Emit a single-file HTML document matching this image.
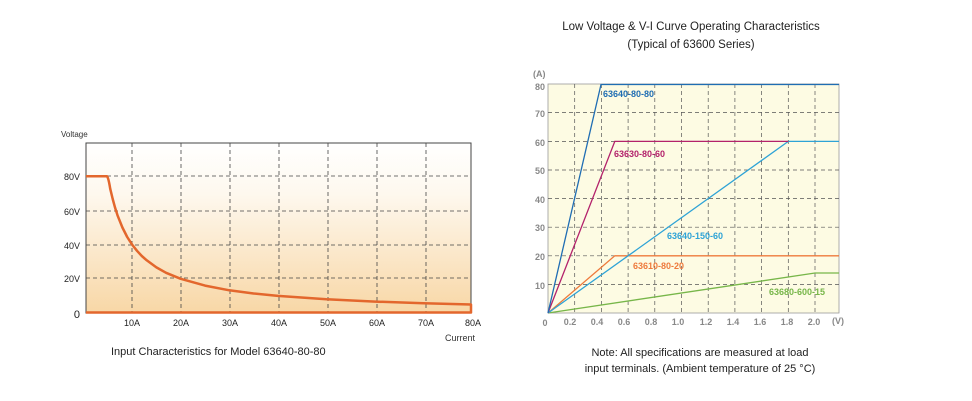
<!DOCTYPE html>
<html><head><meta charset="utf-8"><style>
html,body{margin:0;padding:0;background:#fff;}
svg{display:block;font-family:"Liberation Sans",sans-serif;}
</style></head><body>
<svg width="972" height="401" viewBox="0 0 972 401" xmlns="http://www.w3.org/2000/svg">
<defs>
<linearGradient id="lg" x1="0" y1="0" x2="0" y2="1">
<stop offset="0" stop-color="#ffffff"/>
<stop offset="0.3" stop-color="#fef8ee"/>
<stop offset="1" stop-color="#f8d7a6"/>
</linearGradient>
</defs>
<text x="61" y="137" font-size="8" fill="#333">Voltage</text>
<rect x="86" y="143" width="385" height="170" fill="url(#lg)" stroke="#444" stroke-width="1"/>
<g stroke="#444" stroke-width="0.8" stroke-dasharray="4,3" fill="none">
<line x1="86" y1="176" x2="471" y2="176"/>
<line x1="86" y1="211" x2="471" y2="211"/>
<line x1="86" y1="245" x2="471" y2="245"/>
<line x1="86" y1="278" x2="471" y2="278"/>
<line x1="132" y1="143" x2="132" y2="313"/>
<line x1="181" y1="143" x2="181" y2="313"/>
<line x1="230" y1="143" x2="230" y2="313"/>
<line x1="279" y1="143" x2="279" y2="313"/>
<line x1="328" y1="143" x2="328" y2="313"/>
<line x1="377" y1="143" x2="377" y2="313"/>
<line x1="426" y1="143" x2="426" y2="313"/>
</g>
<path d="M86,176.2 L107,176.2 Q108.5,178 110.2,188.7 L112.7,199 L115.1,207.8 L117.5,215.3 L122.4,227.5 L127.2,237 L132.1,244.6 L137,250.8 L141.8,256 L146.7,260.3 L156.4,267.4 L166.1,272.8 L180.7,278.8 L205,285.6 L229.3,290.3 L253.6,293.5 L277.9,295.9 L326.5,299.3 L375.1,301.6 L423.7,303.3 L471,304.5 L471,312.5 L86,312.5" fill="none" stroke="#e3672d" stroke-width="2.5" stroke-linejoin="round"/>
<g font-size="9" fill="#222" text-anchor="end">
<text x="80" y="180">80V</text><text x="80" y="215">60V</text><text x="80" y="249">40V</text><text x="80" y="282">20V</text>
<text x="80" y="318" font-size="11">0</text>
</g>
<g font-size="9" fill="#222" text-anchor="middle">
<text x="132" y="326">10A</text><text x="181" y="326">20A</text><text x="230" y="326">30A</text><text x="279" y="326">40A</text><text x="328" y="326">50A</text><text x="377" y="326">60A</text><text x="426" y="326">70A</text><text x="473" y="326">80A</text>
</g>
<text x="475" y="341" font-size="9" fill="#333" text-anchor="end">Current</text>
<text x="111" y="355" font-size="11" fill="#222">Input Characteristics for Model 63640-80-80</text>

<text x="691" y="30" font-size="11.5" fill="#222" text-anchor="middle">Low Voltage &amp; V-I Curve Operating Characteristics</text>
<text x="691" y="48" font-size="11.5" fill="#222" text-anchor="middle">(Typical of 63600 Series)</text>
<rect x="548" y="84" width="291" height="229" fill="#fdfbe3" stroke="#999" stroke-width="0.8"/>
<g stroke="#555" stroke-width="0.7" stroke-dasharray="4,3" fill="none">
<line x1="548" y1="112.6" x2="839" y2="112.6"/><line x1="548" y1="141.4" x2="839" y2="141.4"/>
<line x1="548" y1="170" x2="839" y2="170"/><line x1="548" y1="198.6" x2="839" y2="198.6"/>
<line x1="548" y1="227.2" x2="839" y2="227.2"/><line x1="548" y1="255.8" x2="839" y2="255.8"/>
<line x1="548" y1="284.4" x2="839" y2="284.4"/>
<line x1="574.7" y1="84" x2="574.7" y2="313"/><line x1="601.4" y1="84" x2="601.4" y2="313"/>
<line x1="628.1" y1="84" x2="628.1" y2="313"/><line x1="654.8" y1="84" x2="654.8" y2="313"/>
<line x1="681.5" y1="84" x2="681.5" y2="313"/><line x1="708.2" y1="84" x2="708.2" y2="313"/>
<line x1="734.9" y1="84" x2="734.9" y2="313"/><line x1="761.6" y1="84" x2="761.6" y2="313"/>
<line x1="788.3" y1="84" x2="788.3" y2="313"/><line x1="815" y1="84" x2="815" y2="313"/>
</g>
<g fill="none" stroke-width="1.3">
<polyline points="548,313 815,273 839,273" stroke="#77b649"/>
<polyline points="548,313 614.8,255.8 839,255.8" stroke="#ee7a3c"/>
<polyline points="548,313 788.3,141.4 839,141.4" stroke="#2ea3d6"/>
<polyline points="548,313 614.8,141.4 788.3,141.4" stroke="#b3226b"/>
<polyline points="548,313 601,84.5 839,84.5" stroke="#1f6db3"/>
</g>
<g font-size="9" font-weight="bold">
<text x="603" y="97" fill="#1f6db3">63640-80-80</text>
<text x="614" y="157" fill="#b3226b">63630-80-60</text>
<text x="667" y="239" fill="#2ea3d6">63640-150-60</text>
<text x="633" y="269" fill="#ee7a3c">63610-80-20</text>
<text x="769" y="295" fill="#77b649">63680-600-15</text>
</g>
<g font-size="9" font-weight="bold" fill="#888" text-anchor="end">
<text x="545" y="90">80</text><text x="545" y="117">70</text><text x="545" y="146">60</text><text x="545" y="174">50</text>
<text x="545" y="203">40</text><text x="545" y="231">30</text><text x="545" y="260">20</text><text x="545" y="289">10</text>
</g>
<text x="533" y="77" font-size="9" font-weight="bold" fill="#888">(A)</text>
<g font-size="9" font-weight="bold" fill="#888" text-anchor="middle">
<text x="545" y="326">0</text><text x="570" y="325">0.2</text><text x="597" y="325">0.4</text><text x="624" y="325">0.6</text>
<text x="651" y="325">0.8</text><text x="678" y="325">1.0</text><text x="706" y="325">1.2</text><text x="733" y="325">1.4</text>
<text x="760" y="325">1.6</text><text x="787" y="325">1.8</text><text x="814" y="325">2.0</text><text x="838" y="324">(V)</text>
</g>
<text x="700" y="356" font-size="11" fill="#222" text-anchor="middle">Note: All specifications are measured at load</text>
<text x="700" y="372" font-size="11" fill="#222" text-anchor="middle">input terminals. (Ambient temperature of 25 °C)</text>
</svg>
</body></html>
